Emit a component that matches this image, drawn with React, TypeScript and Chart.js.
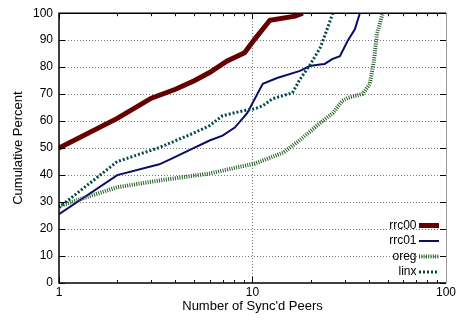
import React, { useEffect, useRef } from "react";
import { Chart, registerables } from "chart.js";

Chart.register(...registerables);

const seriesNames = ["rrc00", "rrc01", "oreg", "linx"];

const rrc00X = [1, 2, 3, 4, 5, 6, 7.4, 9.1, 10.3, 12.3, 16.6, 18.2];
const rrc00Y = [50, 61, 68.5, 71.8, 75, 78, 82.3, 85.3, 90.5, 97.4, 98.9, 100];

const rrc01X = [1, 2, 3.3, 3.75, 4.9, 6, 7, 8.1, 9.4, 11.3, 13.4, 17.6, 19.8, 22.3, 23.6, 25.8, 28.3, 31, 33.8, 35.9];
const rrc01Y = [25.5, 40, 44, 45.8, 49.8, 52.8, 54.6, 57.6, 63, 73.8, 76, 78.6, 80.4, 81, 81.2, 83, 84.1, 89.7, 94, 100];

const oregX = [1, 2, 3.3, 6, 10.3, 14.4, 17.6, 21.5, 26.1, 29.1, 31, 37.1, 40.4, 42.4, 44, 47.1];
const oregY = [28.5, 35.5, 38, 40.6, 44.3, 48.3, 53, 58.3, 63.1, 67.5, 68.6, 70.1, 73.8, 82.3, 92.3, 100];

const linxX = [1, 2, 3.3, 4.9, 6, 7, 8.9, 10.3, 11.3, 12.7, 16.1, 17.6, 19.8, 22.3, 23.1, 26];
const linxY = [28, 45, 50.2, 55.4, 58.3, 62, 63.8, 64.6, 65.7, 68.3, 70.5, 75.5, 80.8, 87, 89.7, 100];

const xTickValues = [1, 10, 100];
const yTickValues = [0, 10, 20, 30, 40, 50, 60, 70, 80, 90, 100];

const colors = ["#660000", "#0c0c66", "#1e5c1e", "#004a4a"];
const widths = [5, 2, 4, 3];
const dashes: number[][] = [[], [], [1, 1.3], [2, 2]];

const toPoints = (xs: number[], ys: number[]) => xs.map((x, i) => ({ x, y: ys[i] }));

const FONT = "'Liberation Sans', Arial, sans-serif";

const gridPlugin = {
  id: "dottedGrid",
  beforeDatasetsDraw(chart: any) {
    const { ctx, chartArea } = chart;
    const { left, right, top, bottom } = chartArea;
    const xs = chart.scales.x;
    const ys = chart.scales.y;
    ctx.save();
    ctx.strokeStyle = "#7a7a7a";
    ctx.lineWidth = 1;
    ctx.setLineDash([1, 2]);
    ctx.beginPath();
    yTickValues.forEach((v) => {
      if (v === 0 || v === 100) return;
      const py = Math.round(ys.getPixelForValue(v)) + 0.5;
      ctx.moveTo(left, py);
      ctx.lineTo(right, py);
    });
    xTickValues.forEach((v) => {
      if (v === 1 || v === 100) return;
      const px = Math.round(xs.getPixelForValue(v)) + 0.5;
      ctx.moveTo(px, bottom);
      ctx.lineTo(px, top);
    });
    ctx.stroke();
    ctx.restore();
  },
};

const framePlugin = {
  id: "frame",
  afterDatasetsDraw(chart: any) {
    const { ctx, chartArea } = chart;
    const { left, right, top, bottom } = chartArea;
    const xs = chart.scales.x;
    const ys = chart.scales.y;
    ctx.save();
    ctx.strokeStyle = "#000";
    ctx.lineWidth = 1;
    ctx.setLineDash([]);
    const minor: number[] = [];
    for (let d = 1; d <= 10; d *= 10) for (let k = 2; k <= 9; k++) minor.push(k * d);
    ctx.beginPath();
    minor.forEach((v) => {
      const px = Math.round(xs.getPixelForValue(v)) + 0.5;
      ctx.moveTo(px, bottom);
      ctx.lineTo(px, bottom - 3);
      ctx.moveTo(px, top);
      ctx.lineTo(px, top + 3);
    });
    xTickValues.forEach((v) => {
      const px = Math.round(xs.getPixelForValue(v)) + 0.5;
      ctx.moveTo(px, bottom);
      ctx.lineTo(px, bottom - 6);
      ctx.moveTo(px, top);
      ctx.lineTo(px, top + 6);
    });
    yTickValues.forEach((v) => {
      const py = Math.round(ys.getPixelForValue(v)) + 0.5;
      ctx.moveTo(left, py);
      ctx.lineTo(left + 6, py);
      ctx.moveTo(right, py);
      ctx.lineTo(right - 6, py);
    });
    ctx.stroke();
    ctx.strokeStyle = "#000";
    ctx.lineWidth = 1.5;
    ctx.beginPath();
    ctx.moveTo(right, top);
    ctx.lineTo(left, top);
    ctx.lineTo(left, bottom);
    ctx.lineTo(right, bottom);
    ctx.stroke();
    ctx.strokeStyle = "#999";
    ctx.lineWidth = 1;
    ctx.beginPath();
    ctx.moveTo(right + 0.5, top);
    ctx.lineTo(right + 0.5, bottom);
    ctx.stroke();
    // legend
    ctx.font = "12px " + FONT;
    ctx.textAlign = "right";
    ctx.textBaseline = "middle";
    ctx.fillStyle = "#000";
    const textRight = 416.5;
    const lineL = 419;
    const lineR = 439;
    seriesNames.forEach((name, i) => {
      const cy = 225.5 + i * 15.5;
      ctx.fillText(name, textRight, cy);
      ctx.strokeStyle = colors[i];
      ctx.lineWidth = widths[i];
      ctx.setLineDash(dashes[i]);
      ctx.beginPath();
      ctx.moveTo(lineL, cy);
      ctx.lineTo(lineR, cy);
      ctx.stroke();
    });
    ctx.restore();
  },
};

export default function App() {
  const ref = useRef<HTMLCanvasElement | null>(null);
  useEffect(() => {
    if (!ref.current) return;
    const sets = [
      toPoints(rrc00X, rrc00Y),
      toPoints(rrc01X, rrc01Y),
      toPoints(oregX, oregY),
      toPoints(linxX, linxY),
    ];
    const chart = new Chart(ref.current, {
      type: "line",
      data: {
        datasets: sets.map((d, i) => ({
          label: seriesNames[i],
          data: d,
          borderColor: colors[i],
          backgroundColor: colors[i],
          borderWidth: widths[i],
          borderDash: dashes[i],
          pointRadius: 0,
          tension: 0,
          fill: false,
          order: 4 - i,
        })),
      },
      options: {
        responsive: false,
        animation: false,
        layout: { padding: { top: 12, right: 12, left: 0, bottom: 0 } },
        plugins: { legend: { display: false }, tooltip: { enabled: false } },
        scales: {
          x: {
            type: "logarithmic",
            min: 1,
            max: 100,
            afterBuildTicks: (scale: any) => {
              scale.ticks = xTickValues.map((v) => ({ value: v }));
            },
            afterFit: (scale: any) => {
              scale.height = 40;
            },
            ticks: {
              autoSkip: false,
              maxRotation: 0,
              padding: 2,
              color: "#000",
              font: { family: FONT, size: 12 },
              callback: (v: any) => String(v),
            },
            grid: { display: false, drawTicks: false },
            border: { display: false },
            title: {
              display: true,
              text: "Number of Sync'd Peers",
              color: "#000",
              font: { family: FONT, size: 13 },
              padding: { top: 0, bottom: 8.5 },
            },
          },
          y: {
            type: "linear",
            min: 0,
            max: 100,
            afterBuildTicks: (scale: any) => {
              scale.ticks = yTickValues.map((v) => ({ value: v }));
            },
            afterFit: (scale: any) => {
              scale.width = 59;
            },
            ticks: {
              padding: 6,
              color: "#000",
              font: { family: FONT, size: 12 },
            },
            grid: { display: false, drawTicks: false },
            border: { display: false },
            title: {
              display: true,
              text: "Cumulative Percent",
              color: "#000",
              font: { family: FONT, size: 13 },
              padding: { top: 11, bottom: 0 },
            },
          },
        },
      },
      plugins: [gridPlugin, framePlugin],
    });
    return () => chart.destroy();
  }, []);
  return (
    <div style={{ position: "fixed", left: 0, top: 0, width: 458, height: 323, background: "#fff" }}>
      <canvas ref={ref} width={458} height={323} style={{ width: 458, height: 323 }} />
    </div>
  );
}
